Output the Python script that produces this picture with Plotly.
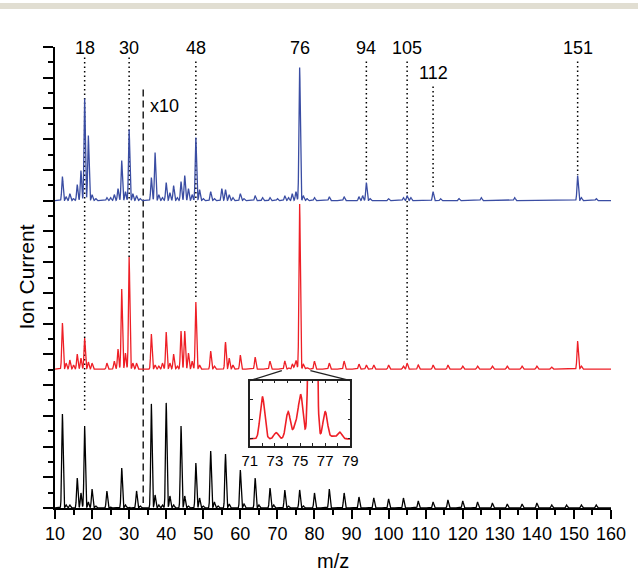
import numpy as np
import plotly.graph_objects as go

# ---- peak lists (m/z, displayed intensity in a.u.; region right of the
# dashed line is shown magnified x10) ----
he_mz = [12, 13, 14, 16, 17, 18, 19, 20, 21, 24, 25, 28, 29, 30, 32, 33,
         36, 37, 38, 39, 40, 41, 42, 44, 45, 46, 48, 49, 50, 52, 53, 54,
         56, 57, 60, 61, 64, 65, 68, 69, 72, 73, 76, 77, 80, 84, 88, 92,
         96, 100, 104, 108, 112, 116, 120, 124, 128, 132, 136, 140, 144,
         148, 152, 156]
he_int = [94, 3, 3, 30, 15, 82, 6, 19, 2, 17, 1, 40, 3, 1, 17, 2,
          104, 13, 3, 3, 105, 12, 3, 82, 12, 2, 45, 10, 2, 57, 6, 2,
          54, 4, 38, 4, 30, 3, 20, 3, 18, 2, 18, 2, 15, 19, 15, 11,
          10, 9, 10, 7, 6, 8, 7, 6, 5, 4, 4, 5, 3,
          3, 3, 3]

gly_mz = [12, 13, 14, 15, 16, 17, 18, 19, 20, 24, 26, 27, 28, 29, 30, 31,
          32, 36, 37, 38, 39, 40, 41, 42, 43, 44, 45, 46, 47, 48, 49, 52,
          53, 56, 57, 58, 60, 64, 68, 72, 73.1, 74.05, 74.65, 75.05, 76,
          77, 77.6, 78.15, 80, 84, 88, 92, 94, 96, 100, 104, 105, 108, 112,
          116, 120, 124, 128, 132, 136, 140, 144, 151, 152]
gly_int = [46, 6, 9, 4, 15, 11, 31, 7, 6, 6, 8, 20, 80, 16, 112, 6,
           6, 35, 4, 3, 6, 37, 6, 15, 3, 38, 38, 16, 8, 67, 4, 18,
           3, 27, 11, 4, 14, 12, 8, 8.1, 1.2, 5.2, 2.6, 8.3, 165,
           5.2, 0.5, 1.3, 8, 6, 8, 5, 4, 4, 4, 3, 6, 4, 4,
           4, 3, 3, 3, 3, 3, 3, 2, 28, 3]

water_mz = [12, 13, 14, 15, 16, 17, 18, 19, 20, 21, 24, 25, 26, 27, 28, 29,
            30, 31, 32, 33, 36, 37, 38, 39, 40, 41, 42, 43, 44, 45, 46, 47,
            48, 49, 50, 52, 53, 55, 56, 57, 58, 60, 61, 64, 66, 68, 70, 72,
            73, 74, 75, 76, 77, 78, 80, 84, 88, 92, 93, 94, 95, 100, 104,
            105, 106, 112, 114, 119, 125, 134, 151, 152, 156]
water_int = [24, 4, 7, 2, 16, 30, 102, 65, 6, 2, 3, 3, 6, 12, 40, 9,
             71, 7, 5, 2, 23, 48, 6, 3, 18, 8, 15, 3, 19, 25, 12, 6,
             63, 11, 2, 9, 2, 12, 11, 6, 3, 7, 2, 5, 3, 3, 2, 5,
             3, 7, 9, 133, 5, 2, 3, 4, 4, 4, 5, 18, 2, 2, 3,
             5, 3, 9, 2, 2, 3, 3, 25, 3, 2]

marked_mz = [18, 30, 48, 76, 94, 105, 112, 151]
x_ticks = list(range(10, 161, 10))
inset_ticks = [71, 73, 75, 77, 79]

# ---- drawing constants ----
UNIT = 30.7            # a.u. per major y tick
PEAK_SIGMA = 0.18      # peak width (m/z)
OFF_HE, OFF_GLY, OFF_WATER = 0.0, 4.52, 10.0
BLUE, RED, BLACK = "#3a4da3", "#ee1f26", "#000000"
FONT = "Liberation Sans, Arial, sans-serif"

grid = np.round(np.arange(10.0, 160.0001, 0.02), 4)


def spectrum(mz, inten):
    """Sum of Gaussian peak profiles on the m/z grid, in y-tick units."""
    mz = np.asarray(mz, float)
    inten = np.asarray(inten, float)
    g = np.exp(-((grid[:, None] - mz[None, :]) ** 2) / (2 * PEAK_SIGMA ** 2))
    return g @ inten / UNIT


he_y = spectrum(he_mz, he_int)
gly_y = spectrum(gly_mz, gly_int)
water_y = spectrum(water_mz, water_int)

fig = go.Figure()
line_w = 1.3
fig.add_trace(go.Scatter(x=grid, y=he_y + OFF_HE, mode="lines",
                         line=dict(color=BLACK, width=line_w), hoverinfo="skip"))
fig.add_trace(go.Scatter(x=grid, y=gly_y + OFF_GLY, mode="lines",
                         line=dict(color=RED, width=line_w), hoverinfo="skip"))
fig.add_trace(go.Scatter(x=grid, y=water_y + OFF_WATER, mode="lines",
                         line=dict(color=BLUE, width=line_w), hoverinfo="skip"))

# inset: glycine spectrum around m/z 71-79
sel = (grid >= 71) & (grid <= 79)
fig.add_trace(go.Scatter(x=grid[sel], y=gly_y[sel], mode="lines",
                         line=dict(color=RED, width=1.6), hoverinfo="skip",
                         xaxis="x2", yaxis="y2"))

YMAX = 15.0
inset_dom_x = [0.3504, 0.5312]
inset_dom_y = [0.1346, 0.2763]

axis_common = dict(showline=True, linecolor=BLACK, linewidth=1.5,
                   ticks="outside", tickcolor=BLACK, tickwidth=1.5,
                   showgrid=False, zeroline=False)

fig.update_layout(
    width=638, height=576,
    margin=dict(l=55, r=15, t=47, b=68),
    plot_bgcolor="white", paper_bgcolor="white",
    showlegend=False,
    font=dict(family=FONT, color=BLACK, size=18),
    xaxis=dict(range=[10, 160], tickvals=x_ticks, ticklen=9,
               tickfont=dict(size=18),
               minor=dict(dtick=5, tick0=10, ticklen=5, ticks="outside",
                          tickcolor=BLACK, tickwidth=1.5),
               **axis_common),
    yaxis=dict(range=[0, YMAX], dtick=1, tick0=0, ticklen=10,
               showticklabels=False,
               minor=dict(dtick=0.5, tick0=0, ticklen=5, ticks="outside",
                          tickcolor=BLACK, tickwidth=1.5),
               **axis_common),
    xaxis2=dict(domain=inset_dom_x, anchor="y2", range=[71, 79],
                tickvals=list(range(71, 80)),
                ticktext=[str(v) if v in inset_ticks else "" for v in range(71, 80)],
                ticks="inside", ticklen=3, tickwidth=1, tickcolor="#222",
                tickfont=dict(size=15),
                showline=True, linecolor="#222", linewidth=1.5, mirror="ticks",
                showgrid=False, zeroline=False),
    # inset y range shares the glycine trace units (magnified)
    yaxis2=dict(domain=inset_dom_y, anchor="x2",
                range=[-1.35 / UNIT, 11.15 / UNIT],
                showticklabels=False, ticks="inside", ticklen=3, tickwidth=1,
                tickcolor="#222", dtick=3.75 / UNIT, tick0=0,
                showline=True, linecolor="#222", linewidth=1.5, mirror="ticks",
                showgrid=False, zeroline=False),
)


def px(p):
    """Vertical position measured down from the canvas top -> y-axis units."""
    return (508 - p) / UNIT


shapes = []
# dotted markers: m/z -> (top, bottom)
dotted = {18: (58, 410), 30: (58, 258), 48: (62, 300), 94: (62, 183),
          105: (62, 360), 112: (87, 190), 151: (62, 175)}
for mz in marked_mz:
    if mz not in dotted:
        continue
    top, bot = dotted[mz]
    shapes.append(dict(type="line", xref="x", yref="y", x0=mz, x1=mz,
                       y0=px(top), y1=px(bot), layer="below",
                       line=dict(color=BLACK, width=1.5, dash="1.5px,3px")))
# x10 divider
shapes.append(dict(type="line", xref="x", yref="y", x0=33.8, x1=33.8,
                   y0=px(90), y1=px(503), layer="below",
                   line=dict(color="#222", width=1.5, dash="7px,4px")))
# connectors from the glycine baseline to the inset corners
ix0 = 10 + inset_dom_x[0] * 150
ix1 = 10 + inset_dom_x[1] * 150
iy = inset_dom_y[1] * YMAX
shapes.append(dict(type="line", xref="x", yref="y", x0=71.2, y0=OFF_GLY - 0.05,
                   x1=ix0, y1=iy, line=dict(color="#222", width=1.3)))
shapes.append(dict(type="line", xref="x", yref="y", x0=78.9, y0=OFF_GLY - 0.05,
                   x1=ix1, y1=iy, line=dict(color="#222", width=1.3)))
# thin band along the top edge
shapes.append(dict(type="rect", xref="paper", yref="paper",
                   x0=-0.2, x1=1.2, y0=(508 - 9) / 461, y1=(508 - 3) / 461,
                   fillcolor="#e1ded2", line=dict(width=0), layer="below"))
fig.update_layout(shapes=shapes)

ann = []
for mz in marked_mz:
    y = px(73) if mz == 112 else px(48)
    ann.append(dict(x=mz, y=y, xref="x", yref="y", text=str(mz),
                    showarrow=False, font=dict(size=18), yanchor="middle"))
ann.append(dict(x=35.1, y=px(106), xref="x", yref="y", text="x10",
                showarrow=False, xanchor="left", yanchor="middle",
                font=dict(size=18)))
ann.append(dict(x=160.5, y=px(138), xref="x", yref="y", text="adding water",
                showarrow=False, xanchor="right", yanchor="middle",
                font=dict(size=19, color=BLUE), bgcolor="white", borderpad=3))
ann.append(dict(x=160.5, y=px(304), xref="x", yref="y", text="adding glycine",
                showarrow=False, xanchor="right", yanchor="middle",
                font=dict(size=19, color=RED)))
ann.append(dict(x=160.5, y=px(443), xref="x", yref="y", text="He cluster beam",
                showarrow=False, xanchor="right", yanchor="middle",
                font=dict(size=19, color=BLACK)))
ann.append(dict(x=0.5, y=(508 - 561) / 461, xref="paper", yref="paper",
                text="m/z", showarrow=False, yanchor="middle",
                font=dict(size=20)))
ann.append(dict(x=0, y=0.5, xref="paper", yref="paper", text="Ion Current",
                showarrow=False, textangle=-90, xanchor="center",
                yanchor="middle", xshift=-29, font=dict(size=21)))
fig.update_layout(annotations=ann)

fig.write_html("out.html")
